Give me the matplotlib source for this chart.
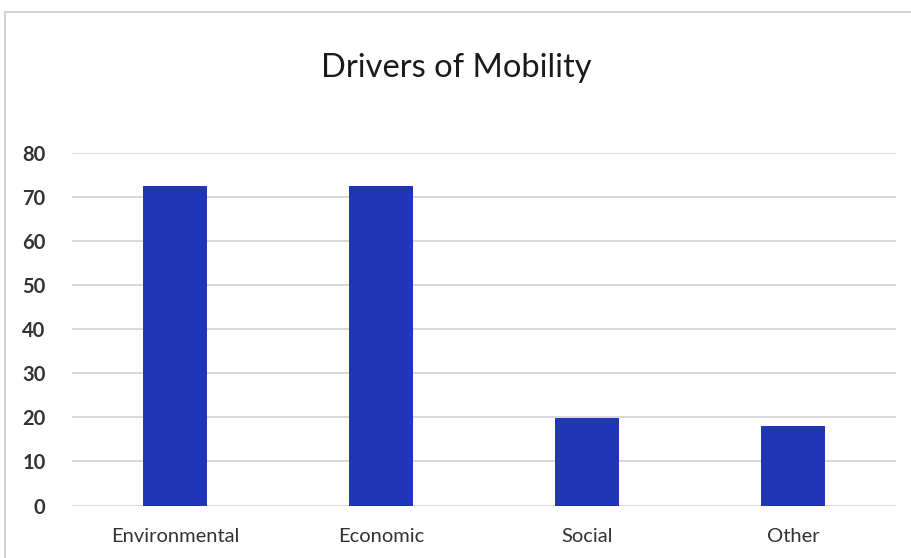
import numpy as np
import matplotlib
matplotlib.use("Agg")
import matplotlib.pyplot as plt
from matplotlib.lines import Line2D

# data
categories = ["Environmental", "Economic", "Social", "Other"]
values = [72.5, 72.5, 19.8, 18.0]
yticks = [0, 10, 20, 30, 40, 50, 60, 70, 80]

plt.rcParams["font.family"] = ["Lato", "DejaVu Sans"]

fig = plt.figure(figsize=(9.12, 5.58), dpi=100)
ax = fig.add_axes([72 / 912, 1 - 505.5 / 558, (896 - 72) / 912, (505.5 - 153) / 558])

x = np.arange(len(categories))
ax.bar(x, values, width=0.31, color="#2136b6", zorder=3)

ax.set_xlim(-0.5, len(categories) - 0.5)
ax.set_ylim(0, 80)
ax.set_yticks(yticks)
ax.set_yticklabels([str(t) for t in yticks], fontsize=14.5, fontweight="bold", color="#333333")
ax.set_xticks(x)
ax.set_xticklabels(categories, fontsize=14.5, color="#333333")
ax.tick_params(axis="y", length=0, pad=19)
ax.tick_params(axis="x", length=0, pad=16)
ax.grid(axis="y", color="#d9d9d9", linewidth=1.4, zorder=0)
for s in ax.spines.values():
    s.set_visible(False)

fig.text(0.5, 1 - 68 / 558, "Drivers of Mobility", ha="center", va="center",
         fontsize=23.5, color="#1a1a1a")

# light frame around the chart, cut off on the right and bottom
fig.add_artist(Line2D([5.5 / 912, 5.5 / 912], [0, 1 - 12 / 558], transform=fig.transFigure,
                      color="#d4d4d4", linewidth=1.5))
fig.add_artist(Line2D([5.5 / 912, 1], [1 - 12 / 558, 1 - 12 / 558], transform=fig.transFigure,
                      color="#d4d4d4", linewidth=1.5))

fig.savefig("out.png", dpi=100)
